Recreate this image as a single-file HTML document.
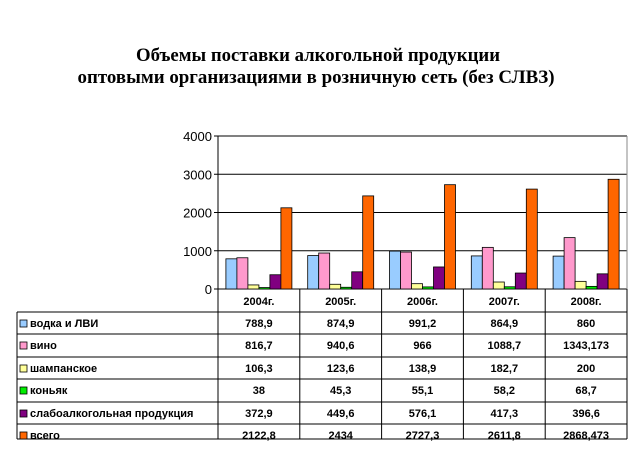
<!DOCTYPE html>
<html><head><meta charset="utf-8"><style>
body{margin:0;background:#fff;}
svg{display:block;font-family:"Liberation Sans",Arial,sans-serif;}
</style></head><body>
<svg id="c" width="644" height="457" viewBox="0 0 644 457">
<text x="318" y="61" text-anchor="middle" font-family="Liberation Serif,serif" font-weight="bold" font-size="19" textLength="364" lengthAdjust="spacingAndGlyphs">Объемы поставки алкогольной продукции</text>
<text x="316" y="83" text-anchor="middle" font-family="Liberation Serif,serif" font-weight="bold" font-size="19" textLength="477" lengthAdjust="spacingAndGlyphs">оптовыми организациями в розничную сеть (без СЛВЗ)</text>
<g id="g"></g>
</svg>
<script>
const categories=["2004г.","2005г.","2006г.","2007г.","2008г."];
const seriesNames=["водка и ЛВИ","вино","шампанское","коньяк","слабоалкогольная продукция","всего"];
const vodka=[788.9,874.9,991.2,864.9,860];
const wine=[816.7,940.6,966,1088.7,1343.173];
const champagne=[106.3,123.6,138.9,182.7,200];
const cognac=[38,45.3,55.1,58.2,68.7];
const lowAlc=[372.9,449.6,576.1,417.3,396.6];
const total=[2122.8,2434,2727.3,2611.8,2868.473];
const labels=[["788,9","874,9","991,2","864,9","860"],["816,7","940,6","966","1088,7","1343,173"],["106,3","123,6","138,9","182,7","200"],["38","45,3","55,1","58,2","68,7"],["372,9","449,6","576,1","417,3","396,6"],["2122,8","2434","2727,3","2611,8","2868,473"]];
const yTicks=[0,1000,2000,3000,4000];
const series=[vodka,wine,champagne,cognac,lowAlc,total];
const colors=["#99ccff","#ff99cc","#ffff99","#00ee00","#800080","#ff6600"];
const x0=218,x1=627,y0=289,yTop=136,yMax=4000;
const bw=(x1-x0)/categories.length;
const y=v=>y0-(v/yMax)*(y0-yTop);
const g=document.getElementById('g');
const NS="http://www.w3.org/2000/svg";
function mk(t,a,p){const e=document.createElementNS(NS,t);for(const k in a)e.setAttribute(k,a[k]);(p||g).appendChild(e);return e;}
yTicks.forEach(t=>{
 const l=mk('line',{x1:x0,x2:x1,y1:y(t),y2:y(t),stroke:'#000','stroke-width':1});
 
 
 mk('line',{x1:x0-4,x2:x0,y1:y(t),y2:y(t),stroke:'#000'});
 const tx=mk('text',{x:x0-6,y:y(t)+5,'text-anchor':'end','font-size':13});
 tx.textContent=t;
 
 
});
mk('line',{x1:x0,x2:x0,y1:yTop,y2:y0,stroke:'#000'});
mk('line',{x1:x1,x2:x1,y1:yTop,y2:y0,stroke:'#888'});
const barW=11,pad=(bw-barW*6)/2;
categories.forEach((c,i)=>{
 series.forEach((s,j)=>{
  const r=mk('rect',{x:x0+i*bw+pad+j*barW,y:y(s[i]),width:barW,height:y0-y(s[i]),fill:colors[j],stroke:'#000','stroke-width':0.8});
  
  
 });
});
const rowTops=[289,312,334,357,379,402,424];
const tBottom=439, tLeft=17;
const vl=(x,ya,yb)=>mk('line',{x1:x,x2:x,y1:ya,y2:yb,stroke:'#000'});
for(let i=0;i<=categories.length;i++) vl(x0+i*bw,y0,tBottom);
vl(tLeft,312,tBottom);
for(let r=1;r<rowTops.length;r++) mk('line',{x1:tLeft,x2:x1,y1:rowTops[r],y2:rowTops[r],stroke:'#000'});
mk('line',{x1:tLeft,x2:x1,y1:tBottom,y2:tBottom,stroke:'#000'});
categories.forEach((c,i)=>{
 const t=mk('text',{x:x0+(i+.5)*bw,y:305,'text-anchor':'middle','font-size':11,'font-weight':'bold'});
 t.textContent=c;
 
 
});
seriesNames.forEach((n,j)=>{
 const yy=rowTops[j+1];
 mk('rect',{x:20,y:yy+8,width:7,height:7,fill:colors[j],stroke:'#000','stroke-width':0.8});
 const t=mk('text',{x:30,y:yy+15,'font-size':11,'font-weight':'bold'});
 t.textContent=n;
 
 
 labels[j].forEach((v,i)=>{
  const tv=mk('text',{x:x0+(i+.5)*bw,y:yy+15,'text-anchor':'middle','font-size':11,'font-weight':'bold'});
  tv.textContent=v;
  
  
 });
});
</script>
</body></html>
